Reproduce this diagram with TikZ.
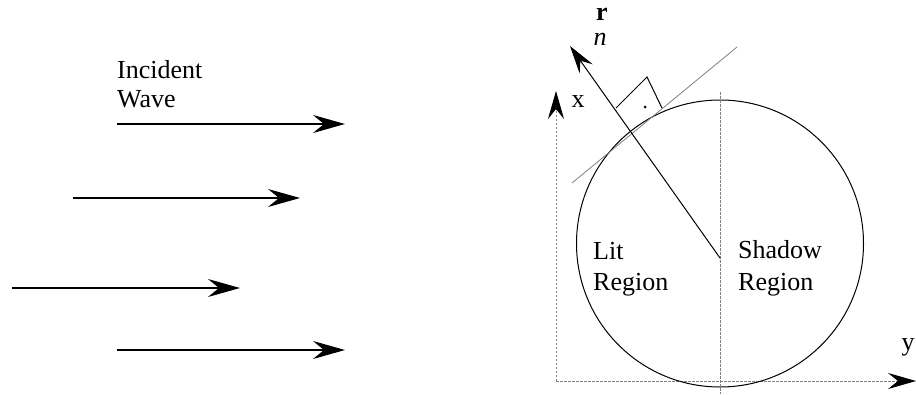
\documentclass[tikz,border=0pt]{standalone}
\usepackage{fontspec}
\setmainfont{Liberation Serif}
\usetikzlibrary{arrows.meta,calc}
\begin{document}
\begin{tikzpicture}[x=1pt,y=-1pt,
  wave/.style={line width=1.2pt,-{Stealth[length=32pt,width=18pt,inset=11pt]}},
  axis/.style={gray,line width=0.8pt,dash pattern=on 2.5pt off 1.5pt},
  axisarrow/.style={axis,-{Stealth[length=28pt,width=16pt,inset=10pt,black]}},
  lbl/.style={inner sep=0pt,font=\fontsize{26}{30}\selectfont},
  thin line/.style={line width=1pt}]
\useasboundingbox (0,0) rectangle (916,394);
% incident wave arrows
\coordinate (w1s) at (117,124); \coordinate (w1e) at (345,124);
\coordinate (w2s) at (73,198);  \coordinate (w2e) at (300,198);
\coordinate (w3s) at (12,288);  \coordinate (w3e) at (240,288);
\coordinate (w4s) at (117,350); \coordinate (w4e) at (345,350);
\draw[wave] (w1s) -- (w1e);
\draw[wave] (w2s) -- (w2e);
\draw[wave] (w3s) -- (w3e);
\draw[wave] (w4s) -- (w4e);
\node[lbl,anchor=base west] (inc) at (117,78) {Incident};
\node[lbl,anchor=base west] (wav) at (117,107) {Wave};
% axes
\coordinate (orig) at (556,381);
\coordinate (xtip) at (556,91);
\coordinate (ytip) at (916,381);
\draw[axisarrow] (orig) -- (xtip);
\draw[axisarrow] (orig) -- (ytip);
\node[lbl,anchor=base] (xl) at (578,107) {x};
\node[lbl,anchor=base] (yl) at (908,350) {y};
% body
\node[draw,circle,line width=1pt,minimum size=287pt,inner sep=0pt] (body) at (720,243.5) {};
\coordinate (ctop) at (720,92); \coordinate (cbot) at (720,394);
\draw[axis] (ctop) -- (cbot);
% tangent line
\coordinate (t1) at (572,183); \coordinate (t2) at (737,47);
\draw[gray,line width=0.8pt] (t1) -- (t2);
% normal
\coordinate (nbase) at (720,258);
\coordinate (ntip) at (570,46);
\draw[thin line,-{Stealth[length=28pt,width=16pt,inset=10pt]}] (nbase) -- (ntip);
% right angle mark
\coordinate (ra) at (616,108); \coordinate (rb) at (647,77); \coordinate (rc) at (662,108);
\draw[thin line] (ra) -- (rb) -- (rc);
\fill (645,107) circle (1.5pt);
\node[lbl,anchor=base] (rl) at (602,20) {\textbf{r}};
\node[lbl,anchor=base] (nl) at (600,45) {\textit{n}};
% region labels
\node[lbl,anchor=base west] (lit1) at (593,259) {Lit};
\node[lbl,anchor=base west] (lit2) at (593,290) {Region};
\node[lbl,anchor=base west] (sh1) at (738,258) {Shadow};
\node[lbl,anchor=base west] (sh2) at (738,290) {Region};
\end{tikzpicture}
\end{document}
